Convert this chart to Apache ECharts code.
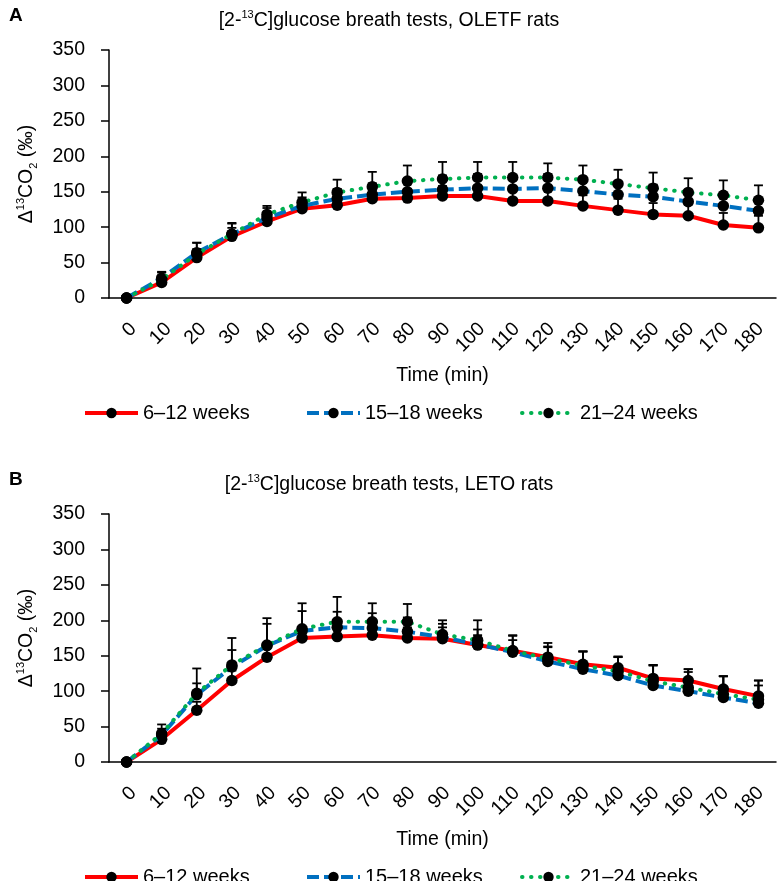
<!DOCTYPE html>
<html>
<head>
<meta charset="utf-8">
<script src="https://cdn.jsdelivr.net/npm/echarts@6/dist/echarts.min.js"></script>
<style>html,body{margin:0;padding:0;background:#fff}#c{width:778px;height:881px}</style>
</head>
<body>
<div id="c"></div>
<script>
const times = ['0','10','20','30','40','50','60','70','80','90','100','110','120','130','140','150','160','170','180'];
const groupNames = ['6–12 weeks', '15–18 weeks', '21–24 weeks'];
const yTicks = [0, 50, 100, 150, 200, 250, 300, 350];

// Panel A: OLETF rats
const oletf612 = [0, 22, 57, 87, 108, 126, 131, 140, 141, 144, 144, 137, 137, 130, 124, 118, 116, 103, 99];
const oletf1518 = [0, 28, 64, 90, 113, 130, 140, 146, 150, 153, 155, 154, 155, 151, 146, 143, 136, 130, 123];
const oletf2124 = [0, 26, 62, 90, 118, 135, 149, 157, 165, 168, 170, 170, 170, 167, 161, 155, 149, 145, 138];
const oletf612Err = [0, 8, 12, 12, 10, 10, 12, 12, 13, 14, 14, 15, 15, 15, 16, 16, 16, 17, 17];
const oletf1518Err = [0, 8, 14, 15, 14, 12, 14, 16, 18, 20, 20, 20, 20, 18, 18, 17, 16, 15, 15];
const oletf2124Err = [0, 11, 16, 16, 12, 14, 18, 21, 22, 24, 22, 22, 20, 20, 20, 22, 20, 21, 21];

// Panel B: LETO rats
const leto612 = [0, 32, 73, 115, 148, 175, 177, 179, 175, 174, 165, 157, 148, 138, 133, 118, 115, 103, 93];
const leto1518 = [0, 38, 95, 134, 164, 185, 190, 189, 184, 176, 166, 155, 142, 131, 122, 108, 100, 91, 83];
const leto2124 = [0, 40, 97, 137, 165, 188, 198, 198, 198, 180, 172, 157, 146, 136, 128, 114, 105, 96, 88];
const leto612Err = [0, 8, 12, 14, 16, 13, 13, 14, 15, 16, 14, 15, 15, 18, 16, 19, 16, 18, 15];
const leto1518Err = [0, 9, 16, 24, 31, 28, 22, 21, 20, 19, 21, 23, 20, 25, 26, 29, 31, 30, 32];
const leto2124Err = [0, 13, 35, 38, 38, 36, 35, 26, 25, 20, 28, 22, 22, 20, 20, 22, 22, 25, 27];

const FONT = 'Liberation Sans, Arial, sans-serif';
const FS = 19.5;
const lineColors = ['#ff0000', '#0070c0', '#00b050'];
const lineTypes = ['solid', [12, 5], [0.5, 8.5]];

const panels = [
  {letter: 'A', rats: 'OLETF rats', vals: [oletf612, oletf1518, oletf2124], errs: [oletf612Err, oletf1518Err, oletf2124Err]},
  {letter: 'B', rats: 'LETO rats', vals: [leto612, leto1518, leto2124], errs: [leto612Err, leto1518Err, leto2124Err]}
];
const OFF = 464;
const LBL_SHIFT = 7;

const chart = echarts.init(document.getElementById('c'));
const grid = [], xAxis = [], yAxis = [], series = [], legend = [], title = [];
const rich = {
  n: {fontSize: FS, fontFamily: FONT, fontWeight: 'normal', color: '#000', lineHeight: 24},
  sup: {fontSize: 11, fontFamily: FONT, fontWeight: 'normal', color: '#000', verticalAlign: 'top', lineHeight: 13},
  sub: {fontSize: 11, fontFamily: FONT, fontWeight: 'normal', color: '#000', verticalAlign: 'bottom', lineHeight: 13}
};
const legendX = [78, 300, 515];

panels.forEach((p, pi) => {
  const off = pi * OFF;
  // main plotting grid
  grid.push({left: 109, right: 2, top: 50 + off, height: 248});
  // label-only grid, same size, shifted slightly right (tick labels sit right of ticks)
  grid.push({left: 109 + LBL_SHIFT, right: 2 - LBL_SHIFT, top: 50 + off, height: 248});
  xAxis.push({
    type: 'category', gridIndex: pi * 2, data: times, boundaryGap: true,
    name: 'Time (min)', nameLocation: 'middle', nameGap: 68,
    nameTextStyle: {fontSize: FS, fontFamily: FONT, color: '#000'},
    axisLine: {lineStyle: {color: '#000', width: 1.5}},
    axisTick: {alignWithLabel: true, interval: 0, length: 7, lineStyle: {color: '#000', width: 1.5}},
    axisLabel: {show: false},
    splitLine: {show: false}
  });
  xAxis.push({
    type: 'category', gridIndex: pi * 2 + 1, data: times, boundaryGap: true,
    axisLine: {show: false}, axisTick: {show: false},
    axisLabel: {rotate: 45, interval: 0, fontSize: FS, fontFamily: FONT, color: '#000', margin: 28},
    splitLine: {show: false}
  });
  yAxis.push({
    type: 'value', gridIndex: pi * 2, min: yTicks[0], max: yTicks[yTicks.length - 1], interval: 50,
    name: '{n|Δ}{sup|13}{n|CO}{sub|2}{n| (‰)}', nameLocation: 'middle', nameGap: 70, nameRotate: 90,
    nameTextStyle: {rich: rich},
    axisLine: {show: true, lineStyle: {color: '#000', width: 1.5}},
    axisTick: {show: true, length: 8, lineStyle: {color: '#000', width: 1.5}},
    axisLabel: {fontSize: FS, fontFamily: FONT, color: '#000', margin: 24},
    splitLine: {show: false}
  });
  yAxis.push({
    type: 'value', gridIndex: pi * 2 + 1, min: yTicks[0], max: yTicks[yTicks.length - 1], interval: 50,
    show: false
  });
  title.push({text: p.letter, left: 4, top: 1 + off, textStyle: {fontSize: 19, fontWeight: 'bold', fontFamily: FONT, color: '#000'}});
  title.push({text: '{n|[2-}{sup|13}{n|C]glucose breath tests, ' + p.rats + '}', left: 'center', top: 4 + off,
    textStyle: {fontWeight: 'normal', rich: rich}});
  groupNames.forEach((g, gi) => {
    const sname = g + (pi ? ' ' : '');
    legend.push({
      data: [{name: sname}], left: legendX[gi], top: 398 + off, itemWidth: 53, itemHeight: 13, itemGap: 0,
      formatter: () => g,
      lineStyle: {width: 4},
      textStyle: {fontSize: 20, fontFamily: FONT, color: '#000', padding: [0, 0, 0, 0]}
    });
    series.push({
      type: 'custom', name: sname + 'err', xAxisIndex: pi * 2, yAxisIndex: pi * 2, z: 3,
      data: p.vals[gi].map((v, i) => [i, v, p.errs[gi][i]]),
      encode: {x: 0, y: 1},
      renderItem: (params, api) => {
        const i = api.value(0), v = api.value(1), e = api.value(2);
        if (!e) return null;
        const a = api.coord([i, v]), b = api.coord([i, v + e]);
        return {type: 'group', children: [
          {type: 'line', shape: {x1: a[0], y1: a[1], x2: b[0], y2: b[1]}, style: {stroke: '#000', lineWidth: 1.8}},
          {type: 'line', shape: {x1: b[0] - 4.5, y1: b[1], x2: b[0] + 4.5, y2: b[1]}, style: {stroke: '#000', lineWidth: 1.8}}
        ]};
      },
      silent: true
    });
    series.push({
      type: 'line', name: sname, xAxisIndex: pi * 2, yAxisIndex: pi * 2, z: 2 + gi * 0.1,
      data: p.vals[gi],
      symbol: 'circle', symbolSize: 11.5, showAllSymbol: true,
      itemStyle: {color: '#000'},
      lineStyle: {color: lineColors[gi], width: 4, type: lineTypes[gi], cap: gi === 2 ? 'round' : 'butt'},
      animation: false
    });
  });
});

chart.setOption({
  animation: false,
  title: title, grid: grid, xAxis: xAxis, yAxis: yAxis, legend: legend, series: series
});
</script>
</body>
</html>
